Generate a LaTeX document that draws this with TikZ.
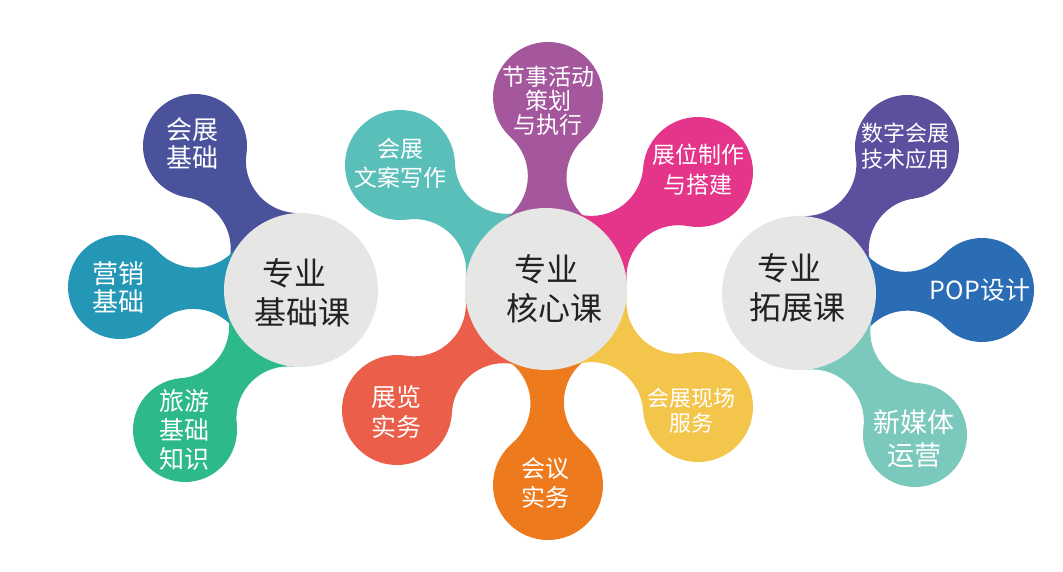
\documentclass[tikz,border=0pt]{standalone}
\usepackage{fontspec}
\setmainfont{Noto Sans CJK SC}
\usetikzlibrary{intersections}
\definecolor{cgray}{HTML}{E6E6E5}
\definecolor{cA}{HTML}{4A529C}
\definecolor{cB}{HTML}{2397B5}
\definecolor{cC}{HTML}{2EB98B}
\definecolor{cD}{HTML}{5BBFB9}
\definecolor{cE}{HTML}{A5579E}
\definecolor{cF}{HTML}{E5358A}
\definecolor{cG}{HTML}{EA5E4A}
\definecolor{cH}{HTML}{EE7A1E}
\definecolor{cI}{HTML}{F4C54B}
\definecolor{cJ}{HTML}{5D4E9E}
\definecolor{cK}{HTML}{2A6DB5}
\definecolor{cL}{HTML}{7BC8BC}
\definecolor{ctext}{HTML}{222222}

% neck between a main circle and a satellite: #1 main coord, #2 R, #3 sat coord, #4 r, #5 colour, #6 id
\newcommand\myneck[6]{%
  \path[name path=pa#6] (#1) circle[radius=#2pt+52pt];
  \path[name path=pb#6] (#3) circle[radius=#4pt+52pt];
  \path[name intersections={of=pa#6 and pb#6, name=n#6}];
  \begin{scope}
    \clip (#1) -- (n#6-1) -- (#3) -- (n#6-2) -- cycle;
    \fill[#5, even odd rule] (0,0) rectangle (1063,572)
      (n#6-1) circle[radius=52pt] (n#6-2) circle[radius=52pt];
  \end{scope}}

\begin{document}
\begin{tikzpicture}[x=1pt,y=-1pt,
  maincirc/.style={circle, fill=cgray, inner sep=0pt, minimum size=#1},
  satcirc/.style={circle, fill=#1, inner sep=0pt},
  maintext/.style={align=center, inner sep=0pt, text=ctext, font=\fontsize{32}{39}\selectfont},
  sattext/.style={align=center, inner sep=0pt, text=white}]
\useasboundingbox (0,0) rectangle (1063,572);
\fill[white] (0,0) rectangle (1063,572);

% centres
\coordinate (M1) at (301,290);
\coordinate (M2) at (546,289);
\coordinate (M3) at (799,293);
\coordinate (S1) at (195,146);
\coordinate (S2) at (120,287);
\coordinate (S3) at (185,430);
\coordinate (S4) at (400,165);
\coordinate (S5) at (548,97);
\coordinate (S6) at (698,172);
\coordinate (S7) at (397,410);
\coordinate (S8) at (548,485);
\coordinate (S9) at (698,407);
\coordinate (S10) at (907,147);
\coordinate (S11) at (982,290);
\coordinate (S12) at (915,435);

% necks
\myneck{M1}{77}{S1}{52}{cA}{a}
\myneck{M1}{77}{S2}{52}{cB}{b}
\myneck{M1}{77}{S3}{52}{cC}{c}
\myneck{M2}{81}{S4}{55}{cD}{d}
\myneck{M2}{81}{S5}{55}{cE}{e}
\myneck{M2}{81}{S6}{55}{cF}{f}
\myneck{M2}{81}{S7}{55}{cG}{g}
\myneck{M2}{81}{S8}{55}{cH}{h}
\myneck{M2}{81}{S9}{55}{cI}{i}
\myneck{M3}{77}{S10}{52}{cJ}{j}
\myneck{M3}{77}{S11}{52}{cK}{k}
\myneck{M3}{77}{S12}{52}{cL}{l}

% satellite circles
\node[satcirc=cA, minimum size=104pt] (s1) at (S1) {};
\node[satcirc=cB, minimum size=104pt] (s2) at (S2) {};
\node[satcirc=cC, minimum size=104pt] (s3) at (S3) {};
\node[satcirc=cD, minimum size=110pt] (s4) at (S4) {};
\node[satcirc=cE, minimum size=110pt] (s5) at (S5) {};
\node[satcirc=cF, minimum size=110pt] (s6) at (S6) {};
\node[satcirc=cG, minimum size=110pt] (s7) at (S7) {};
\node[satcirc=cH, minimum size=110pt] (s8) at (S8) {};
\node[satcirc=cI, minimum size=110pt] (s9) at (S9) {};
\node[satcirc=cJ, minimum size=104pt] (s10) at (S10) {};
\node[satcirc=cK, minimum size=104pt] (s11) at (S11) {};
\node[satcirc=cL, minimum size=104pt] (s12) at (S12) {};

% main circles
\node[maincirc=154pt] (m1) at (M1) {};
\node[maincirc=162pt] (m2) at (M2) {};
\node[maincirc=154pt] (m3) at (M3) {};

% main texts
\node[maintext] (tm1) at (302,293) {专业\kern15pt\\基础课};
\node[maintext] (tm2) at (554,289) {专业\kern15pt\\核心课};
\node[maintext] (tm3) at (797,288) {专业\kern15pt\\拓展课};

% satellite texts
\node[sattext, font=\fontsize{26}{28}\selectfont] (t1) at (192,143) {会展\\基础};
\node[sattext, font=\fontsize{26}{28}\selectfont] (t2) at (118,287) {营销\\基础};
\node[sattext, font=\fontsize{25}{29}\selectfont] (t3) at (184,430) {旅游\\基础\\知识};
\node[sattext, font=\fontsize{23}{29}\selectfont] (t4) at (400,163) {会展\\文案写作};
\node[sattext, font=\fontsize{23}{24}\selectfont] (t5) at (548,101) {节事活动\\策划\\与执行};
\node[sattext, font=\fontsize{23}{30}\selectfont] (t6) at (698,170) {展位制作\\与搭建};
\node[sattext, font=\fontsize{25}{30}\selectfont] (t7) at (396,412) {展览\\实务};
\node[sattext, font=\fontsize{24}{29}\selectfont] (t8) at (545,483) {会议\\实务};
\node[sattext, font=\fontsize{22}{25}\selectfont] (t9) at (691,411) {会展现场\\服务};
\node[sattext, font=\fontsize{22}{26}\selectfont] (t10) at (905,146) {数字会展\\技术应用};
\node[sattext, font=\fontsize{25}{28}\selectfont] (t11) at (980,290) {POP设计};
\node[sattext, font=\fontsize{27}{33}\selectfont] (t12) at (914,439) {新媒体\\运营};
\end{tikzpicture}
\end{document}
